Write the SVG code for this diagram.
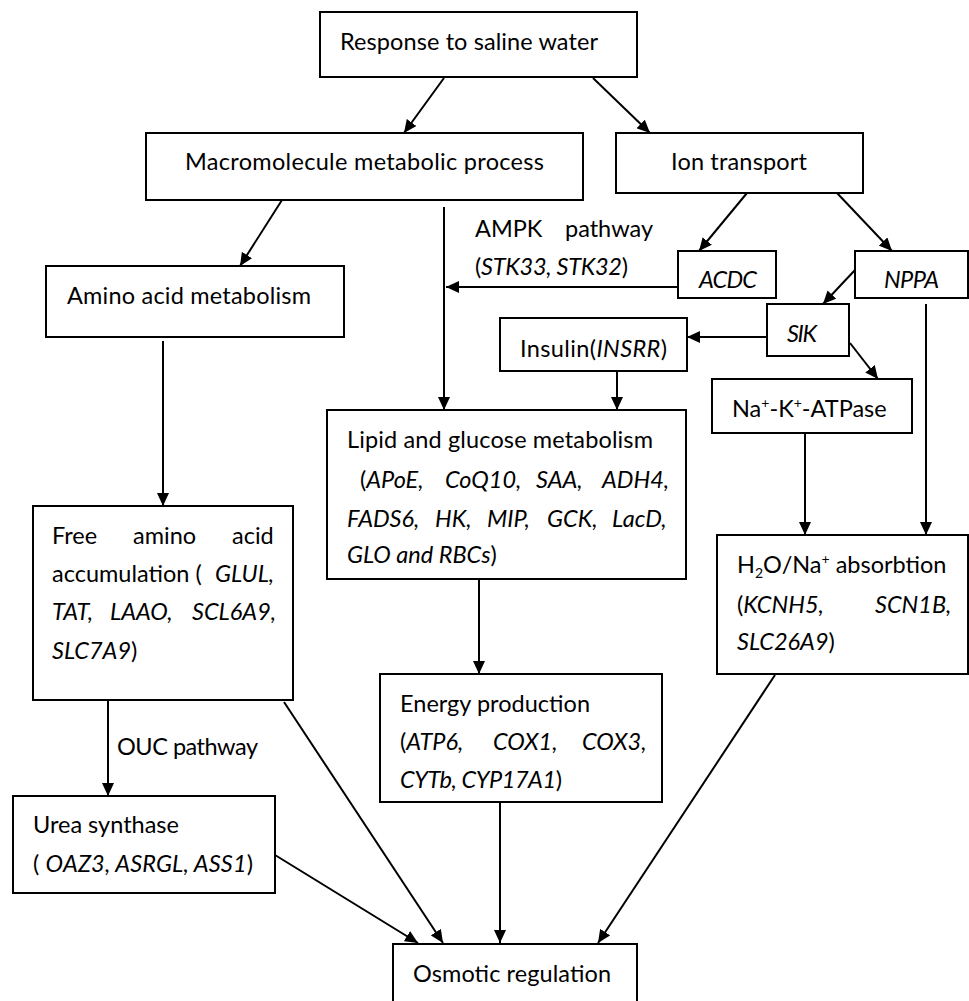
<svg xmlns="http://www.w3.org/2000/svg" width="969" height="1001" viewBox="0 0 969 1001">
<defs>
<marker id="ah" markerUnits="userSpaceOnUse" markerWidth="13" markerHeight="12" refX="13" refY="6" orient="auto">
<path d="M0,0 L13,6 L0,12 z" fill="#000"/>
</marker>
<style>
.box{fill:#fff;stroke:#000;stroke-width:2}
.t{font-family:Lato,"Open Sans","Liberation Sans",sans-serif;font-size:23.5px;fill:#000}
.i{font-style:italic}
.c line{stroke:#000;stroke-width:2;marker-end:url(#ah)}
</style>
</defs>
<rect width="969" height="1001" fill="#fff"/>

<g id="n-response">
<rect class="box" x="320" y="12" width="317" height="65"/>
<text class="t" x="340" y="50" textLength="258">Response to saline water</text>
</g>
<g id="n-macro">
<rect class="box" x="146" y="133" width="437" height="67"/>
<text class="t" x="185" y="170" textLength="359">Macromolecule metabolic process</text>
</g>
<g id="n-ion">
<rect class="box" x="616" y="133" width="247" height="60"/>
<text class="t" x="671" y="170" textLength="136">Ion transport</text>
</g>
<g id="n-amino">
<rect class="box" x="46" y="266" width="298" height="71"/>
<text class="t" x="67" y="304" textLength="244">Amino acid metabolism</text>
</g>
<g id="n-acdc">
<rect class="box" x="678" y="251" width="98" height="47"/>
<text class="t i" x="699" y="288" textLength="58">ACDC</text>
</g>
<g id="n-nppa">
<rect class="box" x="855" y="251" width="113" height="47"/>
<text class="t i" x="884" y="288" textLength="55">NPPA</text>
</g>
<g id="n-sik">
<rect class="box" x="767" y="304" width="82" height="52"/>
<text class="t i" x="787" y="342" textLength="30">SIK</text>
</g>
<g id="n-insulin">
<rect class="box" x="500" y="318" width="187" height="53"/>
<text class="t" x="520" y="357" textLength="147">Insulin(<tspan class="i">INSRR</tspan>)</text>
</g>
<g id="n-nak">
<rect class="box" x="712" y="379" width="200" height="54"/>
<text class="t" x="732" y="417">Na<tspan dy="-9" font-size="14">+</tspan><tspan dy="9">-K</tspan><tspan dy="-9" font-size="14">+</tspan><tspan dy="9">-ATPase</tspan></text>
</g>
<g id="n-ampk-label">
<text class="t" x="475" y="237">AMPK</text>
<text class="t" x="565" y="237">pathway</text>
<text class="t" x="475" y="275" textLength="153">(<tspan class="i">STK33, STK32</tspan>)</text>
</g>
<g id="n-lipid">
<rect class="box" x="327" y="410" width="359" height="169"/>
<text class="t" x="347" y="448" textLength="306">Lipid and glucose metabolism</text>
<text class="t" x="360" y="488">(<tspan class="i">APoE,</tspan></text>
<text class="t i" x="445" y="488">CoQ10,</text>
<text class="t i" x="536" y="488">SAA,</text>
<text class="t i" x="602" y="488">ADH4,</text>
<text class="t i" x="347" y="527">FADS6,</text>
<text class="t i" x="435" y="527">HK,</text>
<text class="t i" x="487" y="527">MIP,</text>
<text class="t i" x="547" y="527">GCK,</text>
<text class="t i" x="612" y="527">LacD,</text>
<text class="t" x="347" y="563"><tspan class="i">GLO and RBCs</tspan>)</text>
</g>
<g id="n-h2o">
<rect class="box" x="717" y="535" width="251" height="139"/>
<text class="t" x="737" y="573">H<tspan dy="5" font-size="14">2</tspan><tspan dy="-5">O/Na</tspan><tspan dy="-9" font-size="14">+</tspan><tspan dy="9"> absorbtion</tspan></text>
<text class="t" x="737" y="613">(<tspan class="i">KCNH5,</tspan></text>
<text class="t i" x="875" y="613">SCN1B,</text>
<text class="t" x="737" y="650"><tspan class="i">SLC26A9</tspan>)</text>
</g>
<g id="n-free">
<rect class="box" x="33" y="506" width="260" height="194"/>
<text class="t" x="52" y="544">Free</text>
<text class="t" x="133" y="544">amino</text>
<text class="t" x="232" y="544">acid</text>
<text class="t" x="52" y="582">accumulation (</text>
<text class="t i" x="215" y="582">GLUL,</text>
<text class="t i" x="52" y="620">TAT,</text>
<text class="t i" x="110" y="620">LAAO,</text>
<text class="t i" x="192" y="620">SCL6A9,</text>
<text class="t" x="52" y="659"><tspan class="i">SLC7A9</tspan>)</text>
</g>
<g id="n-ouc-label">
<text class="t" x="117" y="755" textLength="141">OUC pathway</text>
</g>
<g id="n-energy">
<rect class="box" x="380" y="674" width="282" height="128"/>
<text class="t" x="400" y="712" textLength="190">Energy production</text>
<text class="t" x="400" y="750">(<tspan class="i">ATP6,</tspan></text>
<text class="t i" x="493" y="750">COX1,</text>
<text class="t i" x="582" y="750">COX3,</text>
<text class="t" x="400" y="788" textLength="162"><tspan class="i">CYTb, CYP17A1</tspan>)</text>
</g>
<g id="n-urea">
<rect class="box" x="13" y="796" width="262" height="97"/>
<text class="t" x="33" y="833">Urea synthase</text>
<text class="t" x="33" y="872" textLength="220">( <tspan class="i">OAZ3, ASRGL, ASS1</tspan>)</text>
</g>
<g id="n-osmotic">
<rect class="box" x="393" y="944" width="244" height="70"/>
<text class="t" x="413" y="982" textLength="198">Osmotic regulation</text>
</g>

<g id="connectors" class="c">
<line x1="444" y1="78" x2="404" y2="133"/>
<line x1="593" y1="78" x2="650" y2="133"/>
<line x1="282" y1="200" x2="240" y2="266"/>
<line x1="444" y1="207" x2="444" y2="410"/>
<line x1="678" y1="287" x2="446" y2="287"/>
<line x1="747" y1="193" x2="699" y2="251"/>
<line x1="837" y1="193" x2="892" y2="251"/>
<line x1="855" y1="270" x2="823" y2="304"/>
<line x1="767" y1="337" x2="687" y2="337"/>
<line x1="850" y1="343" x2="878" y2="379"/>
<line x1="617" y1="371" x2="617" y2="410"/>
<line x1="805" y1="433" x2="805" y2="535"/>
<line x1="926" y1="304" x2="926" y2="535"/>
<line x1="163" y1="341" x2="163" y2="506"/>
<line x1="479" y1="579" x2="479" y2="674"/>
<line x1="108" y1="700" x2="108" y2="796"/>
<line x1="275" y1="855" x2="418" y2="943"/>
<line x1="284" y1="702" x2="443" y2="943"/>
<line x1="500" y1="802" x2="500" y2="943"/>
<line x1="775" y1="675" x2="598" y2="943"/>
</g>
</svg>
